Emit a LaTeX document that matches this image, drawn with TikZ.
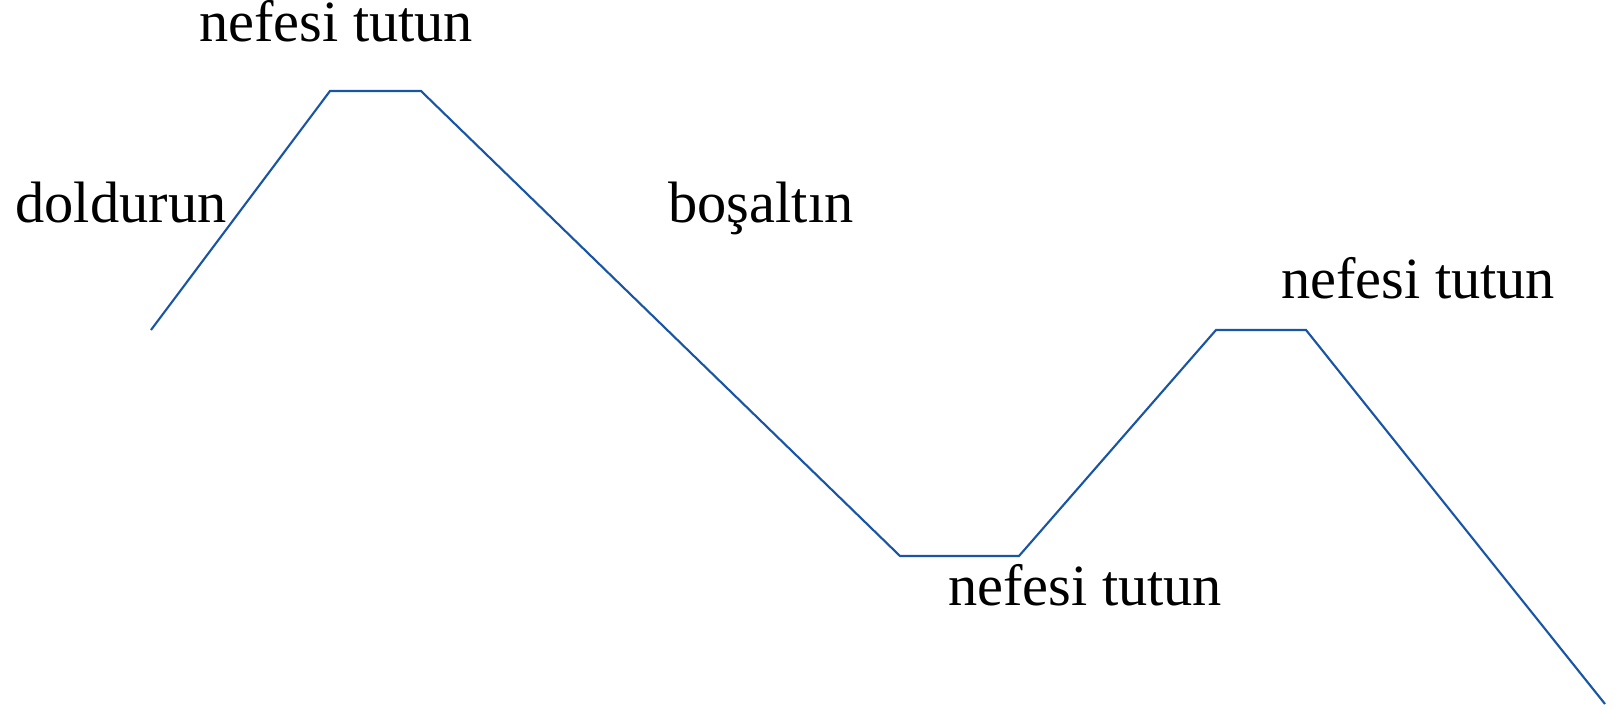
\documentclass[tikz,border=0pt]{standalone}
\usepackage{fontspec}
\setmainfont{Liberation Serif}
\usetikzlibrary{positioning}
\definecolor{breathline}{RGB}{25,85,165}

\begin{document}
\begin{tikzpicture}[
        x=0.01cm, y=-0.01cm,
        lbl/.style={font=\fontsize{16.6}{20}\selectfont, anchor=base, inner sep=0pt},
        curve/.style={draw=breathline, line width=0.6pt, line join=miter}
    ]
        \useasboundingbox (0,0) rectangle (1617,710);

        % --- Nefes eğrisi ---
        \coordinate (start) at (151,330);
        \coordinate (top1) at (330,91);
        \coordinate (top2) at (421,91);
        \coordinate (low1) at (900,556);
        \coordinate (low2) at (1019,556);
        \coordinate (mid1) at (1216,330);
        \coordinate (mid2) at (1306,330);
        \coordinate (stop) at (1605,704);
        \draw[curve] (start) -- (top1) -- (top2) -- (low1) -- (low2) -- (mid1) -- (mid2) -- (stop);

        % --- Etiketler ---
        \node[lbl] (holdtop) at (336,42) {nefesi tutun};
        \node[lbl] (fill) at (121,223) {doldurun};
        \node[lbl] (empty) at (761,223) {boşaltın};
        \node[lbl] (holdmid) at (1418,299) {nefesi tutun};
        \node[lbl] (holdlow) at (1085,606) {nefesi tutun};
    \end{tikzpicture}
\end{document}
